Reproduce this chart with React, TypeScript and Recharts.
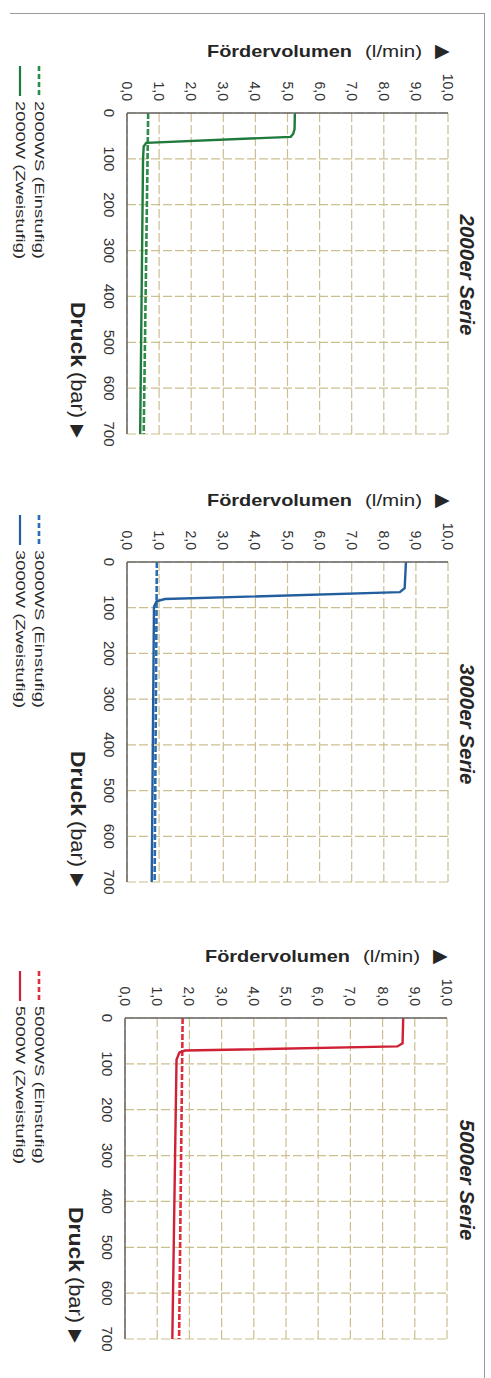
import React from 'react';
import { LineChart, Line, XAxis, YAxis, CartesianGrid, Legend, Customized } from 'recharts';

// ---------- data ----------
const pressureTicks = [0, 100, 200, 300, 400, 500, 600, 700];
const flowTicks = [0, 1, 2, 3, 4, 5, 6, 7, 8, 9, 10];

const seriesTitles = ['2000er Serie', '3000er Serie', '5000er Serie'];
const einstufigNames = ['2000WS (Einstufig)', '3000WS (Einstufig)', '5000WS (Einstufig)'];
const zweistufigNames = ['2000W (Zweistufig)', '3000W (Zweistufig)', '5000W (Zweistufig)'];

// 2000er
const ws2000Pressure = [0, 700];
const ws2000Flow = [0.66, 0.52];
const w2000Pressure = [0, 35, 45, 52, 65, 73, 100, 700];
const w2000Flow = [5.23, 5.22, 5.18, 5.1, 0.6, 0.52, 0.5, 0.41];

// 3000er
const ws3000Pressure = [0, 700];
const ws3000Flow = [0.93, 0.86];
const w3000Pressure = [0, 57, 66, 81, 86, 98, 700];
const w3000Flow = [8.69, 8.65, 8.5, 1.18, 0.92, 0.84, 0.77];

// 5000er
const ws5000Pressure = [0, 700];
const ws5000Flow = [1.79, 1.68];
const w5000Pressure = [0, 55, 62, 71, 75, 91, 700];
const w5000Flow = [8.64, 8.62, 8.46, 1.86, 1.69, 1.6, 1.47];

const zip = (p: number[], q: number[]) => p.map((v, i) => ({ p: v, q: q[i] }));

// ---------- layout / style ----------
const FONT = "'Liberation Sans', Arial, Helvetica, sans-serif";
const PAGE_W = 491;

const panels = [
  {
    top: 0, height: 460, left: 127, right: 448, plotTop: 113, plotBottom: 434,
    solid: '#1f7a3c', dashed: '#2c8c48',
    ws: zip(ws2000Pressure, ws2000Flow), w: zip(w2000Pressure, w2000Flow),
  },
  {
    top: 460, height: 460, left: 127, right: 448, plotTop: 102, plotBottom: 422,
    solid: '#235f9e', dashed: '#2a6cb3',
    ws: zip(ws3000Pressure, ws3000Flow), w: zip(w3000Pressure, w3000Flow),
  },
  {
    top: 920, height: 458, left: 125, right: 447, plotTop: 98, plotBottom: 419,
    solid: '#cf2036', dashed: '#de2d3e',
    ws: zip(ws5000Pressure, ws5000Flow), w: zip(w5000Pressure, w5000Flow),
  },
];

const fmtFlow = (v: number) => v.toFixed(1).replace('.', ',');

const FlowTick = (props: any) => {
  const { x, y, payload } = props;
  return (
    <text x={x} y={y} transform={`rotate(90, ${x}, ${y})`} textAnchor="end"
      dominantBaseline="central" fontSize={14} fill="#333" fontFamily={FONT}>
      {fmtFlow(payload.value)}
    </text>
  );
};

const PressureTick = (props: any) => {
  const { x, y, payload } = props;
  return (
    <text x={x} y={y} transform={`rotate(90, ${x}, ${y})`} textAnchor="middle"
      dominantBaseline="central" fontSize={15} fill="#333" fontFamily={FONT}>
      {payload.value}
    </text>
  );
};

function PanelTexts({ cfg, title }: any) {
  const { left, plotTop } = cfg;
  const fx = left + 80;
  const ty = plotTop - 56;
  const dx = left - 49;
  const dy = plotTop + 189;
  const sx = 467;
  const sy = plotTop + 162;
  return (
    <g fontFamily={FONT} fill="#262626">
      <text x={fx} y={ty} fontSize={17} fontWeight="bold" textLength={145} lengthAdjust="spacingAndGlyphs">Fördervolumen</text>
      <text x={fx + 158} y={ty} fontSize={17} textLength={57} lengthAdjust="spacingAndGlyphs">(l/min)</text>
      <text x={fx + 228} y={ty} fontSize={19} textLength={15} lengthAdjust="spacingAndGlyphs">▶</text>
      <g transform={`rotate(90, ${dx}, ${dy})`}>
        <text x={dx} y={dy} dominantBaseline="central" fontSize={21} fontWeight="bold" textLength={65} lengthAdjust="spacingAndGlyphs">Druck</text>
        <text x={dx + 70} y={dy} dominantBaseline="central" fontSize={21} textLength={46} lengthAdjust="spacingAndGlyphs">(bar)</text>
        <text x={dx + 123} y={dy} dominantBaseline="central" fontSize={18} textLength={13} lengthAdjust="spacingAndGlyphs">▶</text>
      </g>
      <text x={sx} y={sy} transform={`rotate(90, ${sx}, ${sy})`} textAnchor="middle" dominantBaseline="central"
        fontSize={20} fontWeight="bold" fontStyle="italic" textLength={121} lengthAdjust="spacingAndGlyphs">{title}</text>
    </g>
  );
}

function LegendContent({ payload, cfg }: any) {
  const y0 = cfg.plotTop - 47;
  return (
    <svg width={60} height={cfg.height} style={{ display: 'block' }}>
      {(payload || []).map((e: any, i: number) => {
        const dashed = !!(e.payload && e.payload.strokeDasharray);
        const x = dashed ? 39 : 20;
        const ty = y0 + 35;
        return (
          <g key={i}>
            <line x1={x} x2={x} y1={y0} y2={y0 + 30} stroke={e.color}
              strokeWidth={dashed ? 2.6 : 2.2} strokeDasharray={dashed ? '5 3' : undefined} />
            <text x={x} y={ty} transform={`rotate(90, ${x}, ${ty})`} dominantBaseline="central"
              fontSize={13.5} fill="#2a2a2a" fontFamily={FONT} textLength={158} lengthAdjust="spacingAndGlyphs">
              {e.value}
            </text>
          </g>
        );
      })}
    </svg>
  );
}

function Panel({ cfg, idx }: any) {
  return (
    <div style={{ position: 'absolute', left: 0, top: cfg.top, width: PAGE_W, height: cfg.height }}>
      <LineChart width={PAGE_W} height={cfg.height} layout="vertical"
        margin={{ top: 0, left: 0, right: PAGE_W - cfg.right, bottom: cfg.height - cfg.plotBottom }}>
        <CartesianGrid stroke="#cbbf90" strokeDasharray="9 3" strokeWidth={1.2} />
        <XAxis type="number" orientation="top" domain={[0, 10]} ticks={flowTicks} allowDataOverflow
          height={cfg.plotTop} tickSize={0} tickLine={false} tickMargin={12} tick={<FlowTick />}
          axisLine={{ stroke: '#666', strokeWidth: 1.5 }} interval={0} />
        <YAxis type="number" dataKey="p" domain={[0, 700]} ticks={pressureTicks} allowDataOverflow
          width={cfg.left} tickSize={0} tickLine={false} tickMargin={18} tick={<PressureTick />}
          axisLine={{ stroke: '#666', strokeWidth: 1.5 }} interval={0} />
        <Line data={cfg.ws} dataKey="q" name={einstufigNames[idx]} type="linear" stroke={cfg.dashed}
          strokeWidth={2.6} strokeDasharray="6 2" dot={false} activeDot={false} isAnimationActive={false} />
        <Line data={cfg.w} dataKey="q" name={zweistufigNames[idx]} type="linear" stroke={cfg.solid}
          strokeWidth={2.4} dot={false} activeDot={false} isAnimationActive={false} />
        <Legend layout="vertical" align="center" verticalAlign="middle"
          wrapperStyle={{ position: 'absolute', left: 0, top: 0, width: 60, height: cfg.height }}
          content={(props: any) => <LegendContent {...props} cfg={cfg} />} />
        <Customized component={<PanelTexts cfg={cfg} title={seriesTitles[idx]} />} />
      </LineChart>
    </div>
  );
}

export default function App() {
  return (
    <div style={{ position: 'absolute', left: 0, top: 0, width: PAGE_W, height: 1378, background: '#fff', overflow: 'hidden' }}>
      <div style={{ position: 'absolute', left: 10, top: 13, width: 474, height: 1370, borderTop: '1.5px solid #9a9a9a', borderRight: '1.5px solid #9a9a9a' }} />
      {panels.map((cfg, i) => <Panel key={i} cfg={cfg} idx={i} />)}
    </div>
  );
}
